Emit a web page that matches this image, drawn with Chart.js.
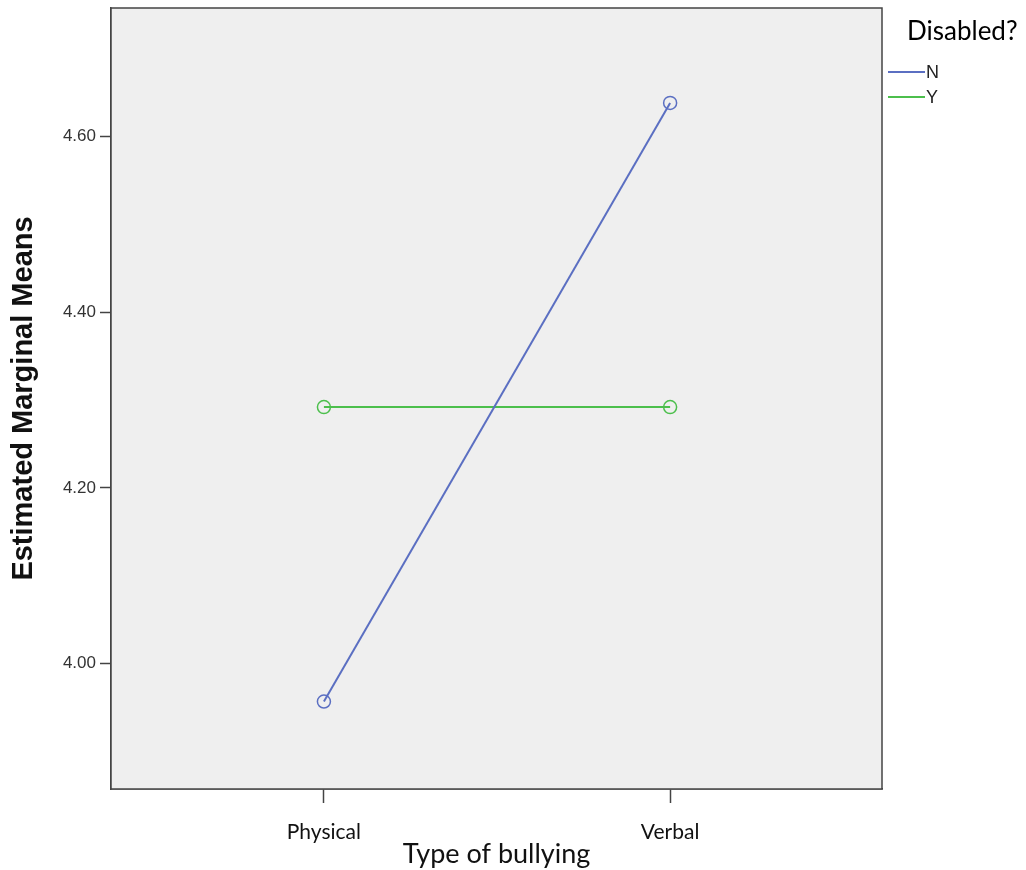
<!DOCTYPE html>
<html>
<head>
<meta charset="utf-8">
<script src="https://cdn.jsdelivr.net/npm/chart.js@4"></script>
<style>
html,body{margin:0;padding:0;background:#fff;}
#wrap{width:1026px;height:870px;position:relative;}
</style>
</head>
<body>
<div id="wrap"><canvas id="c" width="1026" height="870"></canvas></div>
<script>
const categories = ['Physical', 'Verbal'];
const seriesN = [3.957, 4.638];
const seriesY = [4.292, 4.292];
const seriesLabels = ['N', 'Y'];
const yTickValues = [4.00, 4.20, 4.40, 4.60];
const legendTitle = 'Disabled?';
const yTitle = 'Estimated Marginal Means';
const xTitle = 'Type of bullying';

const colors = ['#5b6fc2', '#4cbf4c'];

function toPoints(arr){ return arr.map((v,i)=>({x:i, y:v})); }

const framePlugin = {
  id: 'frame',
  beforeDatasetsDraw(chart){
    const {ctx, chartArea:a} = chart;
    ctx.save();
    ctx.fillStyle = '#efefef';
    ctx.fillRect(a.left, a.top, a.right-a.left, a.bottom-a.top);
    ctx.restore();
  },
  afterDraw(chart){
    const {ctx, chartArea:a} = chart;
    ctx.save();
    ctx.strokeStyle = '#444';
    ctx.lineWidth = 1.5;
    ctx.strokeRect(a.left, a.top, a.right-a.left, a.bottom-a.top);
    // legend
    ctx.fillStyle = '#000';
    ctx.font = '26px Lato, "Open Sans", sans-serif';
    ctx.textBaseline = 'middle';
    ctx.textAlign = 'left';
    ctx.fillText(legendTitle, 907, 32);
    chart.data.datasets.forEach((ds, i) => {
      const y = 72 + i*25;
      ctx.strokeStyle = ds.borderColor;
      ctx.lineWidth = 2;
      ctx.beginPath();
      ctx.moveTo(888, y);
      ctx.lineTo(925, y);
      ctx.stroke();
      ctx.fillStyle = '#222';
      ctx.font = '18px "Liberation Sans", Arial, sans-serif';
      ctx.fillText(ds.label, 926, y+1);
    });
    ctx.restore();
  }
};

new Chart(document.getElementById('c'), {
  type: 'line',
  data: {
    datasets: [
      { label: seriesLabels[0], data: toPoints(seriesN), borderColor: colors[0], backgroundColor: 'rgba(0,0,0,0)',
        borderWidth: 2, pointRadius: 6.5, pointBorderWidth: 1.5, pointBackgroundColor: 'rgba(0,0,0,0)', pointBorderColor: colors[0], tension: 0 },
      { label: seriesLabels[1], data: toPoints(seriesY), borderColor: colors[1], backgroundColor: 'rgba(0,0,0,0)',
        borderWidth: 2, pointRadius: 6.5, pointBorderWidth: 1.5, pointBackgroundColor: 'rgba(0,0,0,0)', pointBorderColor: colors[1], tension: 0 }
    ]
  },
  options: {
    responsive: false,
    animation: false,
    devicePixelRatio: 1,
    layout: { padding: { top: 8, right: 144, bottom: 0, left: 0 } },
    plugins: { legend: { display: false }, tooltip: { enabled: false } },
    scales: {
      x: {
        type: 'linear',
        min: -0.615, max: 1.612,
        afterBuildTicks(s){ s.ticks = categories.map((c,i)=>({value:i})); },
        afterFit(s){ s.height = 81; s.paddingLeft = 0; s.paddingRight = 0; },
        grid: { drawOnChartArea: false, tickLength: 14, tickWidth: 1.5, tickColor: '#444' },
        border: { display: true, color: '#444', width: 1.5 },
        ticks: { color: '#111', font: { family: 'Lato, "Open Sans", sans-serif', size: 21 }, padding: 17, maxRotation: 0,
          callback: (v) => categories[v] },
        title: { display: true, text: xTitle, color: '#111', font: { family: 'Lato, "Open Sans", sans-serif', size: 27 }, padding: { top: 0, bottom: 0 } }
      },
      y: {
        type: 'linear',
        min: 3.8575, max: 4.746,
        afterBuildTicks(s){ s.ticks = yTickValues.map(v=>({value:v})); },
        afterFit(s){ s.width = 111; s.paddingTop = 0; s.paddingBottom = 0; },
        grid: { drawOnChartArea: false, tickLength: 11, tickWidth: 1.5, tickColor: '#444' },
        border: { display: true, color: '#444', width: 1.5 },
        ticks: { color: '#333', font: { family: '"Liberation Sans", Arial, sans-serif', size: 17 }, padding: 4,
          callback: (v) => Number(v).toFixed(2) },
        title: { display: true, text: yTitle, color: '#111', font: { family: '"Liberation Sans", Arial, sans-serif', size: 29, weight: 'bold' }, padding: { top: 7, bottom: 0 } }
      }
    }
  },
  plugins: [framePlugin]
});
</script>
</body>
</html>
